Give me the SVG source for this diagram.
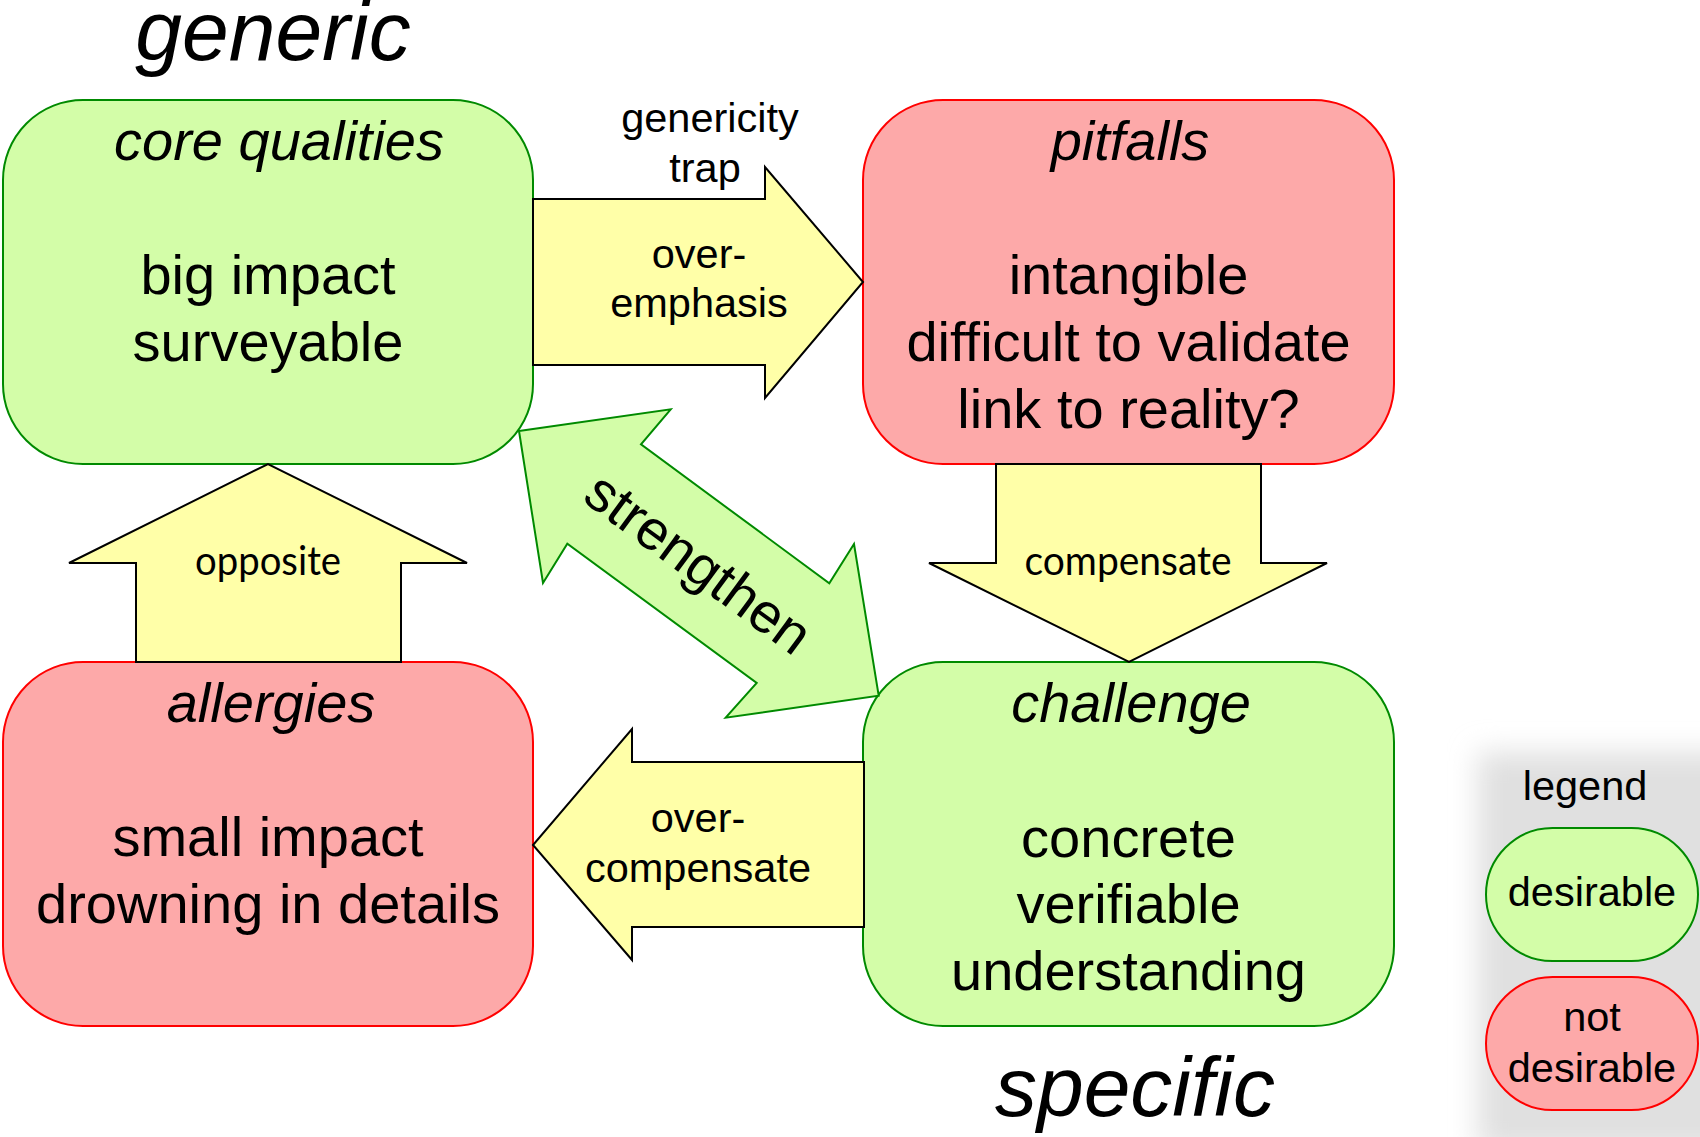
<svg xmlns="http://www.w3.org/2000/svg" width="1700" height="1137" viewBox="0 0 1700 1137">
  <defs>
    <filter id="blur" x="-30%" y="-30%" width="160%" height="160%">
      <feGaussianBlur stdDeviation="14"/>
    </filter>
  </defs>
  <style>
    .good { fill: #d3fda8; stroke: #008a00; stroke-width: 2; }
    .bad { fill: #fda9a9; stroke: #ff0000; stroke-width: 2; }
    .arrow { fill: #ffffa8; stroke: #000000; stroke-width: 2; stroke-linejoin: miter; }
    .garrow { fill: #d3fda8; stroke: #008a00; stroke-width: 2; }
    text { font-family: "Liberation Sans", Arial, sans-serif; fill: #000; text-anchor: middle; }
    .title { font-size: 56px; font-style: italic; }
    .body { font-size: 56px; }
    .big { font-size: 84px; font-style: italic; }
    .lab { font-size: 41.5px; }
    .cal { font-family: Lato, "Open Sans", sans-serif; font-size: 40px; }
  </style>
  <rect width="1700" height="1137" fill="#ffffff"/>

  <!-- legend shadow background -->
  <rect x="1478" y="752" width="260" height="400" fill="#e0e0e0" filter="url(#blur)"/>

  <text class="big" x="273" y="60">generic</text>
  <text class="big" x="1135" y="1116">specific</text>

  <g id="core-qualities">
    <rect class="good" x="3" y="100" width="530" height="364" rx="80" ry="80"/>
    <text class="title" x="279" y="160">core qualities</text>
    <text class="body" x="268" y="294">big impact</text>
    <text class="body" x="268" y="361">surveyable</text>
  </g>

  <g id="pitfalls">
    <rect class="bad" x="863" y="100" width="531" height="364" rx="80" ry="80"/>
    <text class="title" x="1130" y="160">pitfalls</text>
    <text class="body" x="1128.5" y="294">intangible</text>
    <text class="body" x="1128.5" y="361">difficult to validate</text>
    <text class="body" x="1128.5" y="428">link to reality?</text>
  </g>

  <g id="allergies">
    <rect class="bad" x="3" y="662" width="530" height="364" rx="80" ry="80"/>
    <text class="title" x="271" y="722">allergies</text>
    <text class="body" x="268" y="856">small impact</text>
    <text class="body" x="268" y="923">drowning in details</text>
  </g>

  <g id="challenge">
    <rect class="good" x="863" y="662" width="531" height="364" rx="80" ry="80"/>
    <text class="title" x="1131" y="722">challenge</text>
    <text class="body" x="1128.5" y="857">concrete</text>
    <text class="body" x="1128.5" y="923">verifiable</text>
    <text class="body" x="1128.5" y="990">understanding</text>
  </g>

  <g id="connectors">
    <g id="over-emphasis">
      <polygon class="arrow" points="533,199 765,199 765,167 863,282 765,398 765,365 533,365"/>
      <text class="lab" x="699" y="268">over-</text>
      <text class="lab" x="699" y="317">emphasis</text>
      <text class="lab" x="710" y="132">genericity</text>
      <text class="lab" x="705" y="182">trap</text>
    </g>
    <g id="over-compensate">
      <polygon class="arrow" points="864,762 632,762 632,729 533,845 632,960 632,927 864,927"/>
      <text class="lab" x="698" y="832">over-</text>
      <text class="lab" x="698" y="882">compensate</text>
    </g>
    <g id="opposite">
      <polygon class="arrow" points="136,662 136,563 69,563 268,464 467,563 401,563 401,662"/>
      <text class="cal" x="268" y="575" textLength="146" lengthAdjust="spacingAndGlyphs">opposite</text>
    </g>
    <g id="compensate">
      <polygon class="arrow" points="996,464 1261,464 1261,563 1327,563 1129,662 929,563 996,563"/>
      <text class="cal" x="1128" y="575" textLength="207" lengthAdjust="spacingAndGlyphs">compensate</text>
    </g>
    <g id="strengthen">
      <polygon class="garrow" points="519,431 670.7,409.3 641,444.3 829.3,583.3 854,544 878.7,695.7 725.7,717.7 756.7,683 567.3,543.7 543,583"/>
      <text class="body" transform="translate(698,564) rotate(36.35)" x="0" y="18">strengthen</text>
    </g>
  </g>

  <g id="legend">
    <text class="lab" x="1585" y="800">legend</text>
    <g id="legend-desirable">
      <rect class="good" x="1486" y="828" width="212" height="133" rx="66.5" ry="66.5"/>
      <text class="lab" x="1592" y="906">desirable</text>
    </g>
    <g id="legend-not-desirable">
      <rect class="bad" x="1486" y="977" width="212" height="133" rx="66.5" ry="66.5"/>
      <text class="lab" x="1592" y="1031">not</text>
      <text class="lab" x="1592" y="1082">desirable</text>
    </g>
  </g>
</svg>
